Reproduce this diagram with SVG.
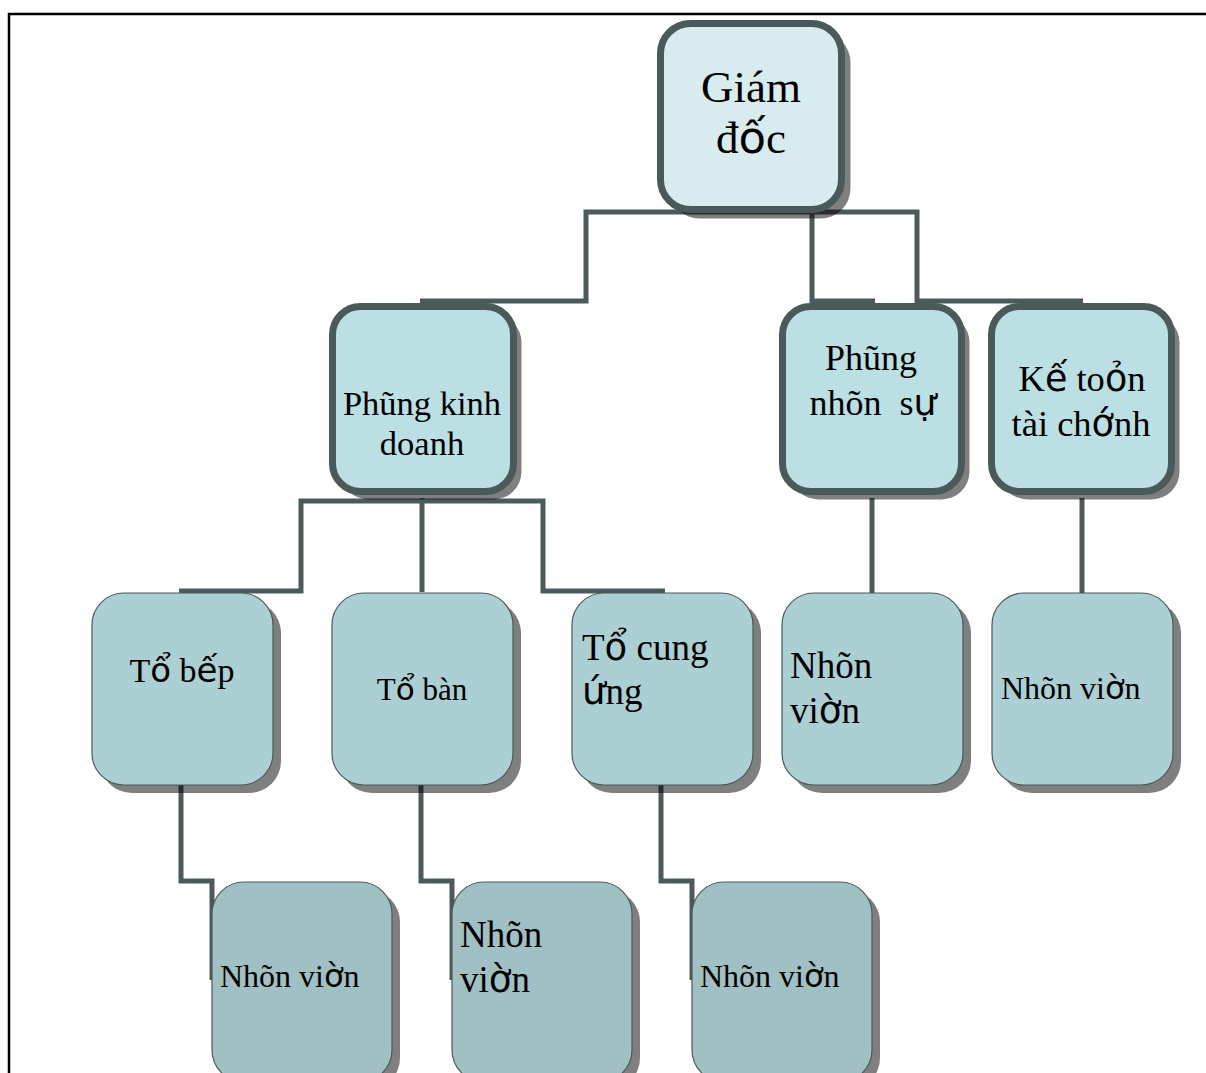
<svg xmlns="http://www.w3.org/2000/svg" width="1206" height="1073" viewBox="0 0 1206 1073">
  <style>
    .frame { fill: none; stroke: #000; stroke-width: 2.5; }
    .link { fill: none; stroke: #4b5b5b; stroke-width: 5; }
    .shadow { fill: #000; fill-opacity: 0.5; }
    .top { fill: #d8ecef; stroke: #4a5a5a; stroke-width: 7; }
    .dept { fill: #bbdfe3; stroke: #4a5a5a; stroke-width: 7; }
    .team { fill: #abcfd2; stroke: #4a5a5a; stroke-width: 1.2; }
    .staff { fill: #a0c0c3; stroke: #4a5a5a; stroke-width: 1.2; }
    text { font-family: "Liberation Serif", "Times New Roman", serif; fill: #000; }
    .c { text-anchor: middle; }
    .s { font-family: "DejaVu Sans", "Liberation Sans", sans-serif; }
    .pre { white-space: pre; }
  </style>

  <!-- page frame -->
  <path class="frame" d="M9,1073 V14 H1206"/>

  <!-- connectors -->
  <g id="connectors">
    <path class="link" d="M420,301 H586 V212 H751"/>
    <path class="link" d="M751,212 H812 V301 H875"/>
    <path class="link" d="M812,212 H917 V301 H1083"/>
    <path class="link" d="M422,498 V592"/>
    <path class="link" d="M422,501 H301 V591 H179"/>
    <path class="link" d="M422,501 H543 V591 H665"/>
    <path class="link" d="M872,498 V593"/>
    <path class="link" d="M1082,498 V593"/>
    <path class="link" d="M181,785 V881 H212 V980"/>
    <path class="link" d="M421,785 V881 H452 V980"/>
    <path class="link" d="M661,785 V881 H692 V980"/>
  </g>

  <!-- director -->
  <g id="giam-doc">
    <rect class="shadow" x="669.5" y="32.5" width="181" height="186" rx="30"/>
    <rect class="top" x="660.5" y="23.5" width="181" height="186" rx="30"/>
    <text class="c" x="751" y="102" font-size="45">Giám</text>
    <text class="c" x="751" y="153" font-size="45">đ<tspan class="s">ố</tspan>c</text>
  </g>

  <!-- departments -->
  <g id="phong-kinh-doanh">
    <rect class="shadow" x="340.5" y="314.5" width="181" height="185" rx="28"/>
    <rect class="dept" x="332.5" y="306.5" width="181" height="185" rx="28"/>
    <text class="c" x="422" y="415" font-size="34.5">Phũng kinh</text>
    <text class="c" x="422" y="455" font-size="34.5">doanh</text>
  </g>

  <g id="phong-nhan-su">
    <rect class="shadow" x="790.5" y="314.5" width="179" height="185" rx="28"/>
    <rect class="dept" x="782.5" y="306.5" width="179" height="185" rx="28"/>
    <text class="c" x="871" y="370" font-size="36">Phũng</text>
    <text class="c pre" x="873" y="415" font-size="36">nhõn  s<tspan class="s">ự</tspan></text>
  </g>

  <g id="ke-toan">
    <rect class="shadow" x="999.5" y="314.5" width="180" height="185" rx="28"/>
    <rect class="dept" x="991.5" y="306.5" width="180" height="185" rx="28"/>
    <text class="c" x="1082" y="391" font-size="36.5">K<tspan class="s">ế</tspan> to<tspan class="s">ỏ</tspan>n</text>
    <text class="c" x="1081" y="436" font-size="36.5">tài ch<tspan class="s">ớ</tspan>nh</text>
  </g>

  <!-- teams -->
  <g id="to-bep">
    <rect class="shadow" x="100" y="601" width="181" height="192" rx="32"/>
    <rect class="team" x="92" y="593" width="181" height="192" rx="32"/>
    <text class="c" x="182" y="682" font-size="34">T<tspan class="s">ổ</tspan> b<tspan class="s">ế</tspan>p</text>
  </g>

  <g id="to-ban">
    <rect class="shadow" x="340" y="601" width="181" height="192" rx="32"/>
    <rect class="team" x="332" y="593" width="181" height="192" rx="32"/>
    <text class="c" x="422" y="700" font-size="31">T<tspan class="s">ổ</tspan> bàn</text>
  </g>

  <g id="to-cung-ung">
    <rect class="shadow" x="580" y="601" width="181" height="192" rx="32"/>
    <rect class="team" x="572" y="593" width="181" height="192" rx="32"/>
    <text x="582" y="660" font-size="37">T<tspan class="s">ổ</tspan> cung</text>
    <text x="582" y="704" font-size="37"><tspan class="s">ứ</tspan>ng</text>
  </g>

  <g id="nhan-vien-ns">
    <rect class="shadow" x="790" y="601" width="181" height="192" rx="32"/>
    <rect class="team" x="782" y="593" width="181" height="192" rx="32"/>
    <text x="790" y="678" font-size="37">Nhõn</text>
    <text x="790" y="723" font-size="37">vi<tspan class="s">ờ</tspan>n</text>
  </g>

  <g id="nhan-vien-kt">
    <rect class="shadow" x="1000" y="601" width="181" height="192" rx="32"/>
    <rect class="team" x="992" y="593" width="181" height="192" rx="32"/>
    <text x="1001" y="699" font-size="32">Nhõn vi<tspan class="s">ờ</tspan>n</text>
  </g>

  <!-- staff -->
  <g id="nhan-vien-bep">
    <rect class="shadow" x="220" y="890" width="180" height="200" rx="32"/>
    <rect class="staff" x="212" y="882" width="180" height="200" rx="32"/>
    <text x="220" y="987" font-size="32">Nhõn vi<tspan class="s">ờ</tspan>n</text>
  </g>

  <g id="nhan-vien-ban">
    <rect class="shadow" x="460" y="890" width="180" height="200" rx="32"/>
    <rect class="staff" x="452" y="882" width="180" height="200" rx="32"/>
    <text x="460" y="947" font-size="37">Nhõn</text>
    <text x="460" y="992" font-size="37">vi<tspan class="s">ờ</tspan>n</text>
  </g>

  <g id="nhan-vien-cung-ung">
    <rect class="shadow" x="700" y="890" width="180" height="200" rx="32"/>
    <rect class="staff" x="692" y="882" width="180" height="200" rx="32"/>
    <text x="700" y="987" font-size="32">Nhõn vi<tspan class="s">ờ</tspan>n</text>
  </g>
</svg>
